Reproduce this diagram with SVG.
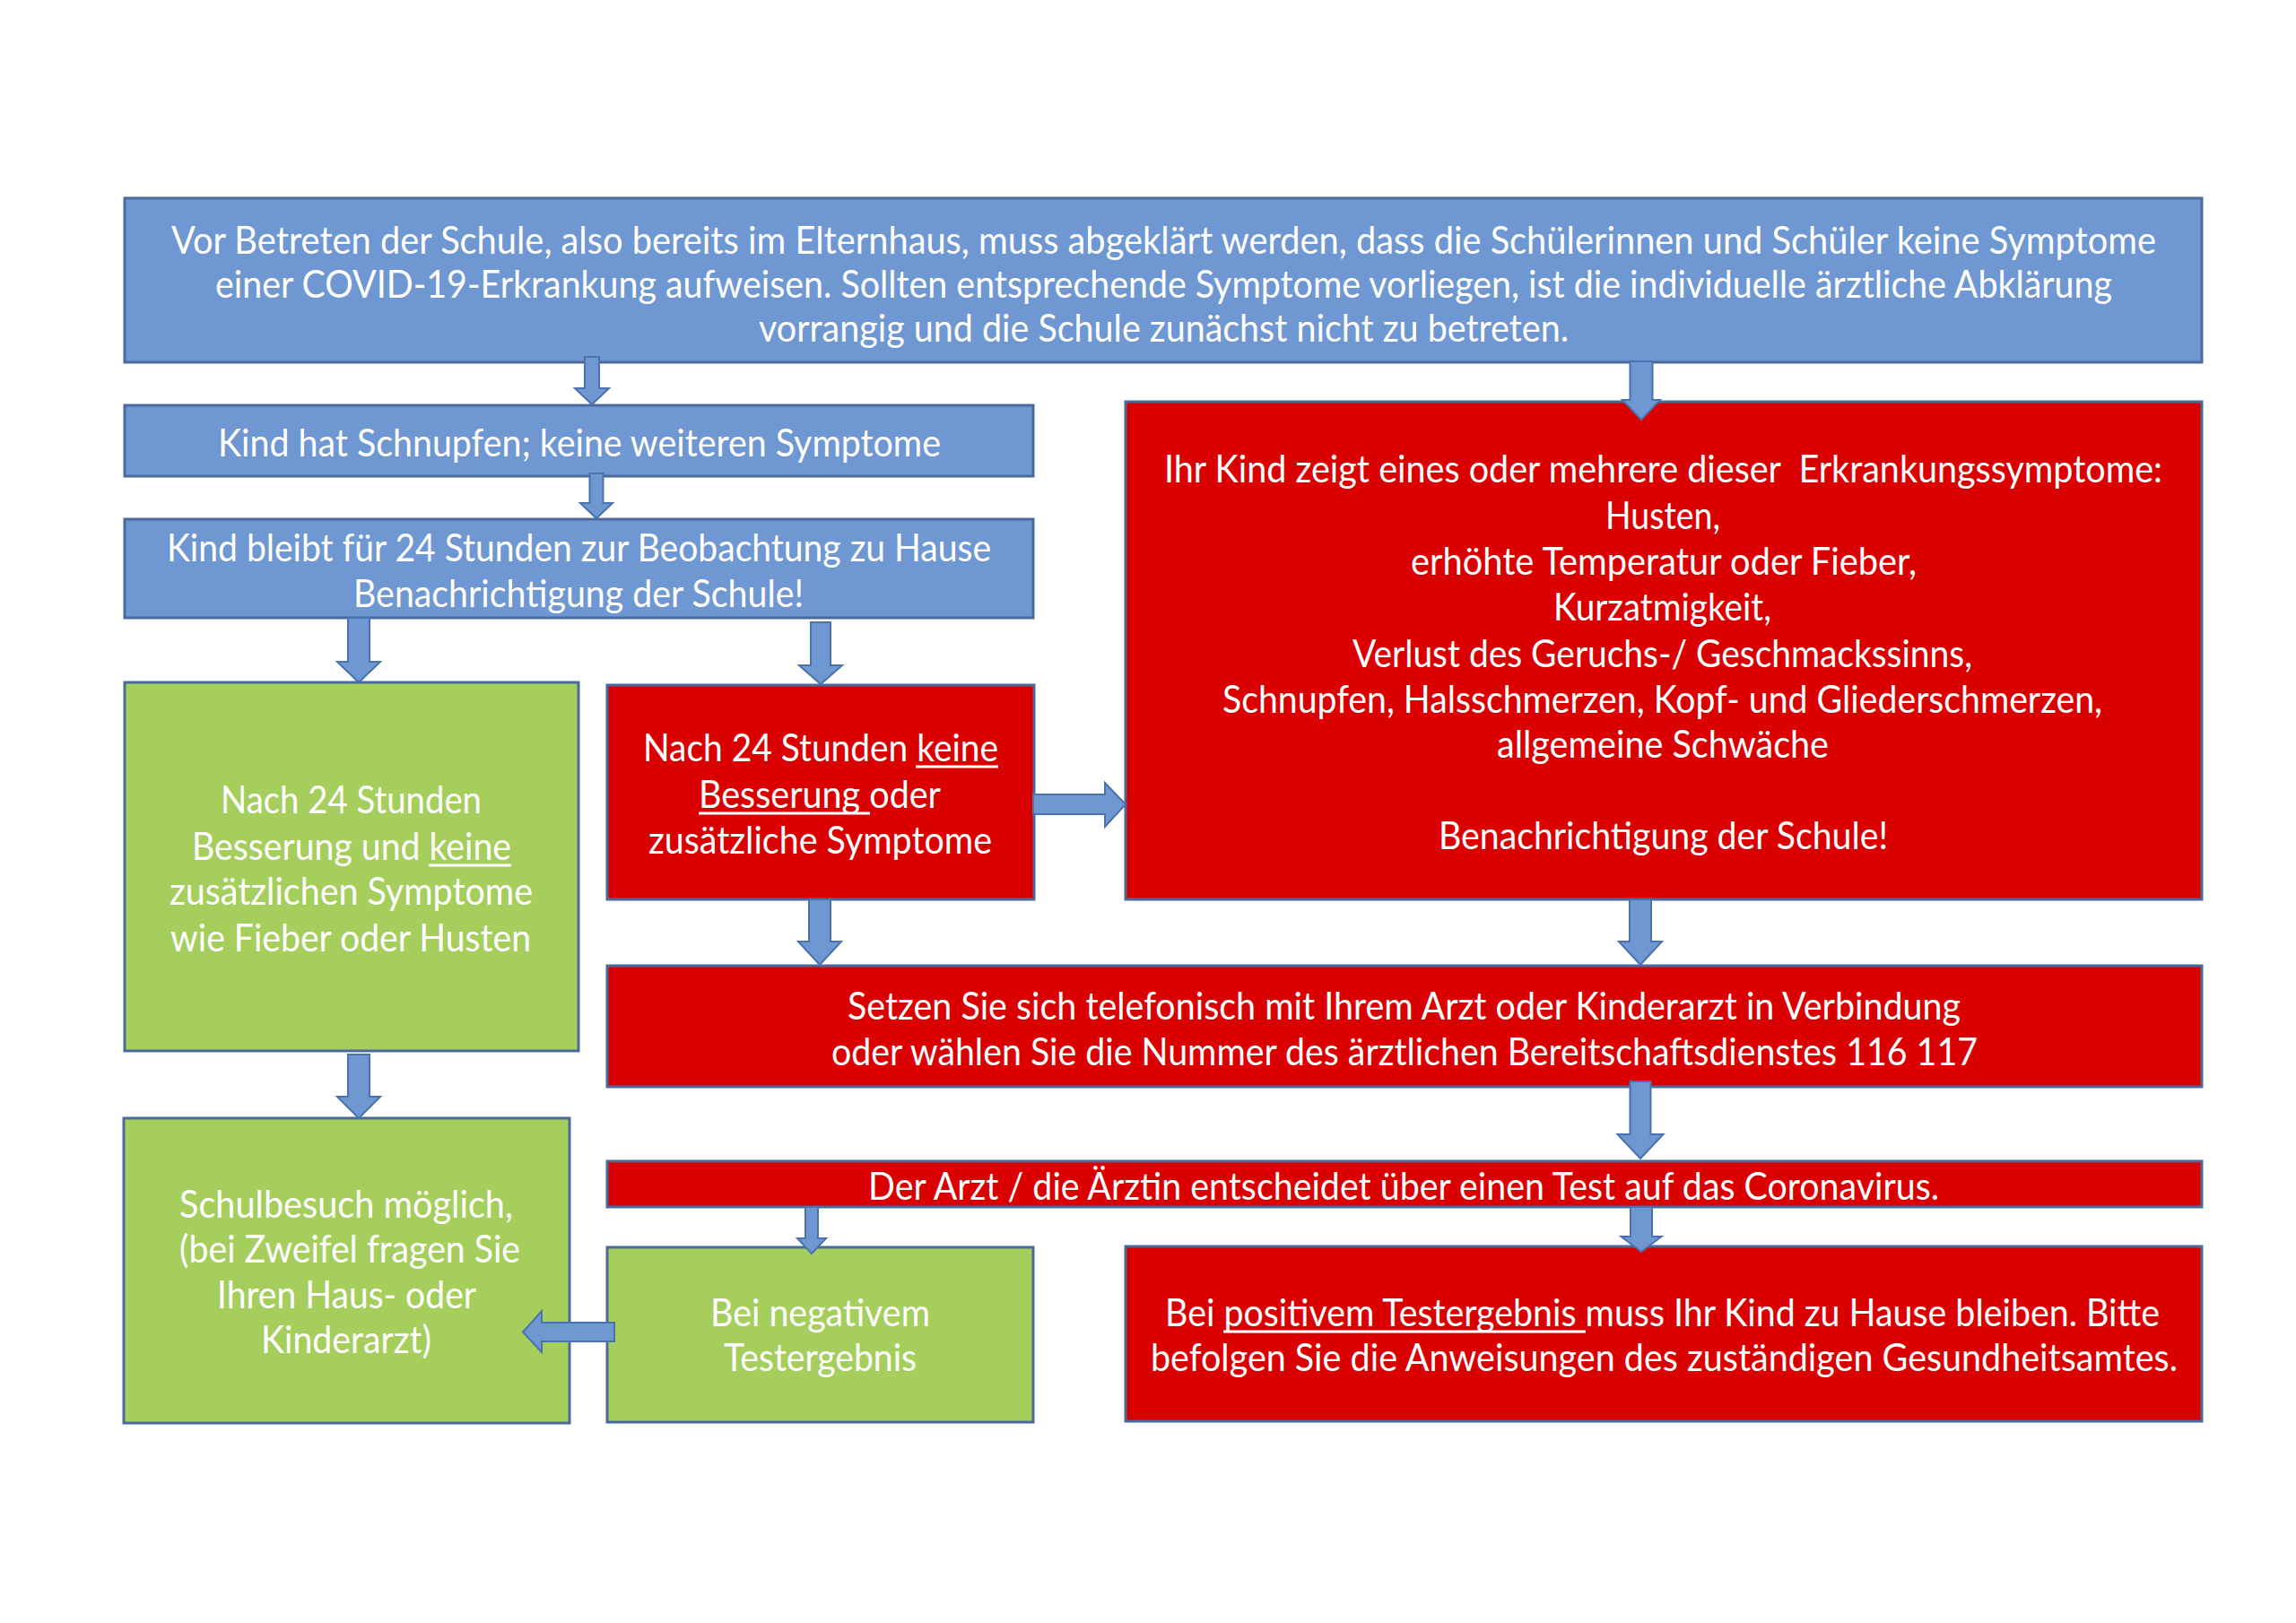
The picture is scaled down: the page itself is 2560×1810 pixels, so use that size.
<svg xmlns="http://www.w3.org/2000/svg" width="2560" height="1810" viewBox="0 0 2560 1810">
<style>
.box{stroke:#4A6A9E;stroke-width:3}
.blue{fill:#6F97D1}
.red{fill:#DA0000}
.green{fill:#A5CE5C}
text{font-family:Lato,"Liberation Sans",sans-serif;font-size:42px;fill:#FFFFFF}
.ul{stroke:#FFFFFF;stroke-width:3}
.arrow{fill:#6F97D1;stroke:#4A72AE;stroke-width:2}
</style>
<rect width="2560" height="1810" fill="#FFFFFF"/>
<g id="node-intro">
<rect class="box blue" x="139" y="221" width="2316" height="183"/>
<text x="191" y="283" textLength="2213" lengthAdjust="spacingAndGlyphs">Vor Betreten der Schule, also bereits im Elternhaus, muss abgeklärt werden, dass die Schülerinnen und Schüler keine Symptome</text>
<text x="240" y="332" textLength="2115" lengthAdjust="spacingAndGlyphs">einer COVID-19-Erkrankung aufweisen. Sollten entsprechende Symptome vorliegen, ist die individuelle ärztliche Abklärung</text>
<text x="846" y="381" textLength="903" lengthAdjust="spacingAndGlyphs">vorrangig und die Schule zunächst nicht zu betreten.</text>
</g>
<g id="node-schnupfen">
<rect class="box blue" x="139" y="452" width="1013" height="79"/>
<text x="243" y="509" textLength="806" lengthAdjust="spacingAndGlyphs">Kind hat Schnupfen; keine weiteren Symptome</text>
</g>
<g id="node-beobachtung">
<rect class="box blue" x="139" y="579" width="1013" height="110"/>
<text x="186" y="626" textLength="919" lengthAdjust="spacingAndGlyphs">Kind bleibt für 24 Stunden zur Beobachtung zu Hause</text>
<text x="394" y="677" textLength="502" lengthAdjust="spacingAndGlyphs">Benachrichtigung der Schule!</text>
</g>
<g id="node-symptome">
<rect class="box red" x="1255" y="448" width="1200" height="555"/>
<text x="1298" y="538" textLength="1113" lengthAdjust="spacingAndGlyphs" xml:space="preserve">Ihr Kind zeigt eines oder mehrere dieser  Erkrankungssymptome:</text>
<text x="1790" y="590" textLength="128" lengthAdjust="spacingAndGlyphs">Husten,</text>
<text x="1573" y="641" textLength="564" lengthAdjust="spacingAndGlyphs">erhöhte Temperatur oder Fieber,</text>
<text x="1732" y="692" textLength="243" lengthAdjust="spacingAndGlyphs">Kurzatmigkeit,</text>
<text x="1508" y="744" textLength="691" lengthAdjust="spacingAndGlyphs">Verlust des Geruchs-/ Geschmackssinns,</text>
<text x="1363" y="795" textLength="981" lengthAdjust="spacingAndGlyphs">Schnupfen, Halsschmerzen, Kopf- und Gliederschmerzen,</text>
<text x="1669" y="845" textLength="370" lengthAdjust="spacingAndGlyphs">allgemeine Schwäche</text>
<text x="1604" y="947" textLength="501" lengthAdjust="spacingAndGlyphs">Benachrichtigung der Schule!</text>
</g>
<g id="node-besserung">
<rect class="box green" x="139" y="761" width="506" height="411"/>
<text x="246" y="907" textLength="291" lengthAdjust="spacingAndGlyphs">Nach 24 Stunden</text>
<text x="214" y="959" textLength="356" lengthAdjust="spacingAndGlyphs">Besserung und keine</text>
<line class="ul" x1="478" y1="965" x2="570" y2="965"/>
<text x="189" y="1009" textLength="405" lengthAdjust="spacingAndGlyphs">zusätzlichen Symptome</text>
<text x="190" y="1061" textLength="402" lengthAdjust="spacingAndGlyphs">wie Fieber oder Husten</text>
</g>
<g id="node-keine-besserung">
<rect class="box red" x="677" y="764" width="476" height="239"/>
<text x="717" y="849" textLength="396" lengthAdjust="spacingAndGlyphs">Nach 24 Stunden keine</text>
<line class="ul" x1="1021" y1="855" x2="1113" y2="855"/>
<text x="779" y="901" textLength="270" lengthAdjust="spacingAndGlyphs">Besserung oder</text>
<line class="ul" x1="779" y1="907" x2="970" y2="907"/>
<text x="723" y="952" textLength="383" lengthAdjust="spacingAndGlyphs">zusätzliche Symptome</text>
</g>
<g id="node-arzt-kontakt">
<rect class="box red" x="677" y="1077" width="1778" height="135"/>
<text x="945" y="1137" textLength="1241" lengthAdjust="spacingAndGlyphs">Setzen Sie sich telefonisch mit Ihrem Arzt oder Kinderarzt in Verbindung</text>
<text x="927" y="1188" textLength="1278" lengthAdjust="spacingAndGlyphs">oder wählen Sie die Nummer des ärztlichen Bereitschaftsdienstes 116 117</text>
</g>
<g id="node-test">
<rect class="box red" x="677" y="1295" width="1778" height="51"/>
<text x="968" y="1338" textLength="1194" lengthAdjust="spacingAndGlyphs">Der Arzt / die Ärztin entscheidet über einen Test auf das Coronavirus.</text>
</g>
<g id="node-schulbesuch">
<rect class="box green" x="138" y="1247" width="497" height="340"/>
<text x="200" y="1358" textLength="372" lengthAdjust="spacingAndGlyphs">Schulbesuch möglich,</text>
<text x="200" y="1408" textLength="380" lengthAdjust="spacingAndGlyphs">(bei Zweifel fragen Sie</text>
<text x="242" y="1459" textLength="289" lengthAdjust="spacingAndGlyphs">Ihren Haus- oder</text>
<text x="291" y="1509" textLength="190" lengthAdjust="spacingAndGlyphs">Kinderarzt)</text>
</g>
<g id="node-negativ">
<rect class="box green" x="677" y="1391" width="475" height="195"/>
<text x="792" y="1479" textLength="245" lengthAdjust="spacingAndGlyphs">Bei negativem</text>
<text x="807" y="1529" textLength="215" lengthAdjust="spacingAndGlyphs">Testergebnis</text>
</g>
<g id="node-positiv">
<rect class="box red" x="1255" y="1390" width="1200" height="195"/>
<text x="1299" y="1479" textLength="1109" lengthAdjust="spacingAndGlyphs">Bei positivem Testergebnis muss Ihr Kind zu Hause bleiben. Bitte</text>
<line class="ul" x1="1364" y1="1485" x2="1768" y2="1485"/>
<text x="1283" y="1529" textLength="1145" lengthAdjust="spacingAndGlyphs">befolgen Sie die Anweisungen des zuständigen Gesundheitsamtes.</text>
</g>
<g id="connectors">
<path class="arrow" d="M652,398 L668,398 L668,433 L679,433 L660,451 L641,433 L652,433 Z"/>
<path class="arrow" d="M657.5,528 L672.5,528 L672.5,561 L683,561 L665,578 L647,561 L657.5,561 Z"/>
<path class="arrow" d="M1817.5,403 L1842.5,403 L1842.5,446 L1851,446 L1830,468 L1809,446 L1817.5,446 Z"/>
<path class="arrow" d="M388,689 L412,689 L412,738 L424,738 L400,761 L376,738 L388,738 Z"/>
<path class="arrow" d="M904,694 L926,694 L926,742 L939,742 L915,763 L891,742 L904,742 Z"/>
<path class="arrow" d="M1152,886 L1232,886 L1232,873 L1255,897 L1232,922 L1232,908 L1152,908 Z"/>
<path class="arrow" d="M902,1003 L926,1003 L926,1050 L938,1050 L914,1076 L890,1050 L902,1050 Z"/>
<path class="arrow" d="M1817,1003 L1841,1003 L1841,1050 L1853,1050 L1829,1076 L1805,1050 L1817,1050 Z"/>
<path class="arrow" d="M1817.5,1206 L1840.5,1206 L1840.5,1265 L1854.5,1265 L1829,1292 L1803.5,1265 L1817.5,1265 Z"/>
<path class="arrow" d="M898,1346 L912,1346 L912,1381 L921,1381 L905,1398 L889,1381 L898,1381 Z"/>
<path class="arrow" d="M1818,1346 L1842,1346 L1842,1379 L1852.5,1379 L1830,1396 L1807.5,1379 L1818,1379 Z"/>
<path class="arrow" d="M388,1176 L412,1176 L412,1223 L424,1223 L400,1247 L376,1223 L388,1223 Z"/>
<path class="arrow" d="M685,1475 L604,1475 L604,1462 L583,1485.5 L604,1508 L604,1496 L685,1496 Z"/>
</g>
</svg>
